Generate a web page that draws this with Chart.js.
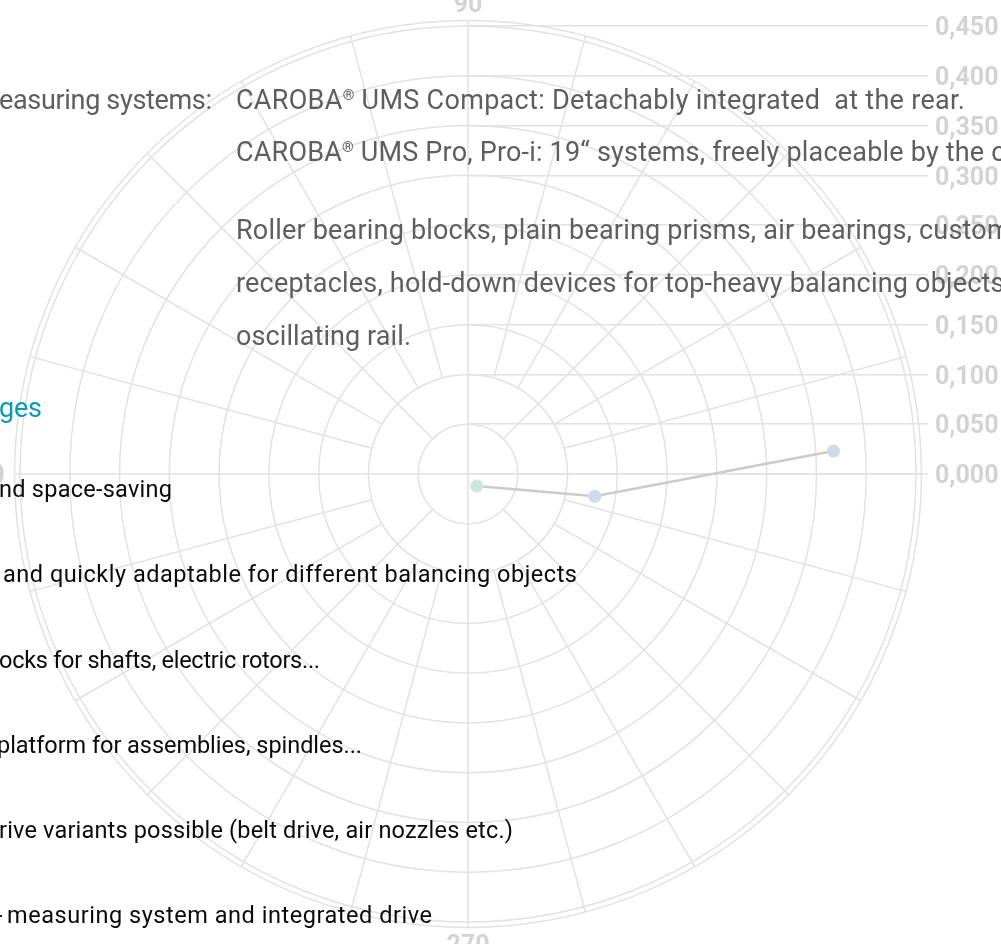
<!DOCTYPE html>
<html>
<head>
<meta charset="utf-8">
<script src="https://cdn.jsdelivr.net/npm/chart.js@4.4.1/dist/chart.umd.min.js"></script>
<style>
  html, body { margin: 0; padding: 0; background: #fff; overflow: hidden; }
  #wrap { position: relative; width: 1001px; height: 944px; overflow: hidden; background: #fff; }
  #c { position: absolute; left: 0; top: 0; }
  .t { position: absolute; white-space: pre; font-family: Roboto, "Open Sans", sans-serif; font-weight: 400; }
  .reg { font-size: 0.55em; vertical-align: 0.62em; }
</style>
</head>
<body>
<div id="wrap"><canvas id="c" width="1001" height="944"></canvas></div>
<script>
// ---------------- data ----------------
const magnitudes = [0.015, 0.129, 0.367];          // polar radius of each measurement
const anglesDeg  = [306, 350, 3.6];                // polar angle of each measurement (deg)
const pointColors = ['#cde8d6', '#d3d9ec', '#d3d9ec'];

const yTickValues = [0, 0.05, 0.10, 0.15, 0.20, 0.25, 0.30, 0.35, 0.40, 0.45];
const yTickLabels = ['0,000','0,050','0,100','0,150','0,200','0,250','0,300','0,350','0,400','0,450'];

const ringValues  = [0.05, 0.10, 0.15, 0.20, 0.25, 0.30, 0.35, 0.40, 0.45];
const outerRing   = 0.4555;
const spokeAngles = [0,15,30,45,60,75,90,105,120,135,150,165,180,195,210,225,240,255,270,285,300,315,330,345];
const angleLabelAngles = [90, 180, 270];
const angleLabelTexts  = ['90', '180', '270'];

const grayText = [
  'easuring systems:',
  'CAROBA® UMS Compact: Detachably integrated  at the rear.',
  'CAROBA® UMS Pro, Pro-i: 19“ systems, freely placeable by the operator.',
  'Roller bearing blocks, plain bearing prisms, air bearings, customized',
  'receptacles, hold-down devices for top-heavy balancing objects,',
  'oscillating rail.'
];
const tealText = ['ges'];
const blackText = [
  'nd space-saving',
  'and quickly adaptable for different balancing objects',
  'ocks for shafts, electric rotors...',
  'platform for assemblies, spindles...',
  'rive variants possible (belt drive, air nozzles etc.)',
  'measuring system and integrated drive',
  '-'
];

// ---------------- chart ----------------
const GRID = '#e2e2e2';
const LABEL = '#d3d3d3';
const tickFont = { family: 'Roboto, "Open Sans", sans-serif', size: 25, weight: '700' };

// plot geometry (chart area) -> equal px per unit on both axes
const PAD = { left: 468, top: 26, bottom: 20, right: 0 };
const YAXIS_W = 73;
const yMin = -0.45, yMax = 0.45;
const areaH = 944 - PAD.top - PAD.bottom;
const areaW = 1001 - PAD.left - YAXIS_W;
const xMax = areaW / (areaH / (yMax - yMin));

const points = magnitudes.map((m, i) => ({
  x: m * Math.cos(anglesDeg[i] * Math.PI / 180),
  y: m * Math.sin(anglesDeg[i] * Math.PI / 180)
}));

const polarGrid = {
  id: 'polarGrid',
  beforeDatasetsDraw(chart) {
    const { ctx, scales: { x, y } } = chart;
    const cx = x.getPixelForValue(0), cy = y.getPixelForValue(0);
    const k = cy - y.getPixelForValue(1);
    ctx.save();
    ctx.strokeStyle = GRID;
    ctx.lineWidth = 1.5;
    [...ringValues, outerRing].forEach(r => {
      ctx.beginPath();
      ctx.arc(cx, cy, r * k, 0, Math.PI * 2);
      ctx.stroke();
    });
    spokeAngles.forEach(a => {
      const r0 = (a % 90 === 0) ? 0 : (a % 45 === 0 ? ringValues[0] : ringValues[1]);
      const t = a * Math.PI / 180;
      ctx.beginPath();
      ctx.moveTo(cx + r0 * k * Math.cos(t), cy - r0 * k * Math.sin(t));
      ctx.lineTo(cx + outerRing * k * Math.cos(t), cy - outerRing * k * Math.sin(t));
      ctx.stroke();
    });
    ctx.restore();
  },
  afterDraw(chart) {
    const { ctx, scales: { x, y } } = chart;
    const cx = x.getPixelForValue(0), cy = y.getPixelForValue(0);
    const k = cy - y.getPixelForValue(1);
    const R = outerRing * k;
    ctx.save();
    ctx.fillStyle = LABEL;
    ctx.font = `${tickFont.weight} ${tickFont.size}px ${tickFont.family}`;
    const capH = tickFont.size * 0.711;
    angleLabelAngles.forEach((a, i) => {
      const txt = angleLabelTexts[i];
      ctx.textBaseline = 'alphabetic';
      if (a === 90) { ctx.textAlign = 'center'; ctx.fillText(txt, cx, cy - R - 8.5); }
      else if (a === 270) { ctx.textAlign = 'center'; ctx.fillText(txt, cx, cy + R + 8 + capH); }
      else if (a === 180) { ctx.textAlign = 'right'; ctx.fillText(txt, cx - R - 10, cy + capH / 2); }
    });
    ctx.restore();
  }
};

new Chart(document.getElementById('c'), {
  type: 'scatter',
  data: {
    datasets: [{
      data: points,
      showLine: true,
      borderColor: '#cbcbcb',
      borderWidth: 2.5,
      pointBackgroundColor: pointColors,
      pointBorderWidth: 0,
      pointRadius: 6.5,
      pointHoverRadius: 6.5,
      clip: false
    }]
  },
  options: {
    responsive: false,
    animation: false,
    events: [],
    layout: { padding: PAD },
    plugins: { legend: { display: false }, tooltip: { enabled: false } },
    scales: {
      x: { type: 'linear', display: false, min: 0, max: xMax },
      y: {
        type: 'linear',
        position: 'right',
        min: yMin, max: yMax,
        afterBuildTicks(scale) { scale.ticks = yTickValues.map(v => ({ value: v })); },
        afterFit(scale) { scale.width = YAXIS_W; },
        ticks: {
          autoSkip: false,
          padding: 7,
          labelOffset: 3,
          color: LABEL,
          font: tickFont,
          callback: (v, i) => yTickLabels[i]
        },
        grid: { color: GRID, lineWidth: 1.5, drawTicks: false },
        border: { display: false }
      }
    }
  },
  plugins: [polarGrid]
});

// ---------------- brochure text overlay ----------------
const wrap = document.getElementById('wrap');
function addLine(text, x, base, size, color, fitW, fixedLS) {
  const d = document.createElement('div');
  d.className = 't';
  d.style.left = x + 'px';
  d.style.top = '0px';
  d.style.fontSize = size + 'px';
  d.style.lineHeight = '1.25';
  d.style.color = color;
  const s = document.createElement('span');
  text.split('®').forEach((part, i) => {
    if (i > 0) {
      const r = document.createElement('span');
      r.className = 'reg';
      r.textContent = '®';
      s.appendChild(r);
    }
    s.appendChild(document.createTextNode(part));
  });
  d.appendChild(s);
  const m = document.createElement('span');
  m.style.cssText = 'display:inline-block;width:0;height:0;vertical-align:baseline;';
  d.appendChild(m);
  wrap.appendChild(d);
  let ls = fixedLS || 0;
  if (fitW) {
    const w = s.getBoundingClientRect().width;
    ls = (fitW - w) / Math.max(1, text.length - 1);
  }
  d.style.letterSpacing = ls + 'px';
  d.style.top = (base - m.offsetTop) + 'px';
  return ls;
}

const GRAY = '#5e5e5e', TEAL = '#0a9bb4', BLACK = '#0a0a0a';
const gSize = 27, bSize = 23.5, tSize = 27;
addLine(grayText[0], -1, 108.5, gSize, GRAY, 213);
const lsB = addLine(grayText[1], 236, 108.5, gSize, GRAY, 729);
const lsC = addLine(grayText[5], 236, 345, gSize, GRAY, 175);
const gLS = (lsB + lsC) / 2;
addLine(grayText[2], 236, 161, gSize, GRAY, 0, gLS);
addLine(grayText[3], 236, 239, gSize, GRAY, 0, gLS);
addLine(grayText[4], 236, 292, gSize, GRAY, 0, gLS);

addLine(tealText[0], -1, 416.5, tSize, TEAL, 43);

addLine(blackText[0], -1, 497, bSize, BLACK, 173);
addLine(blackText[1], 3, 582, bSize, BLACK, 574);
addLine(blackText[2], -1, 667.5, bSize, BLACK, 321);
addLine(blackText[3], -3, 752.5, bSize, BLACK, 365);
addLine(blackText[4], -1, 838, bSize, BLACK, 514);
addLine(blackText[5], 7, 923, bSize, BLACK, 425);
addLine(blackText[6], -4, 923, bSize, BLACK, 0, 0);
</script>
</body>
</html>
